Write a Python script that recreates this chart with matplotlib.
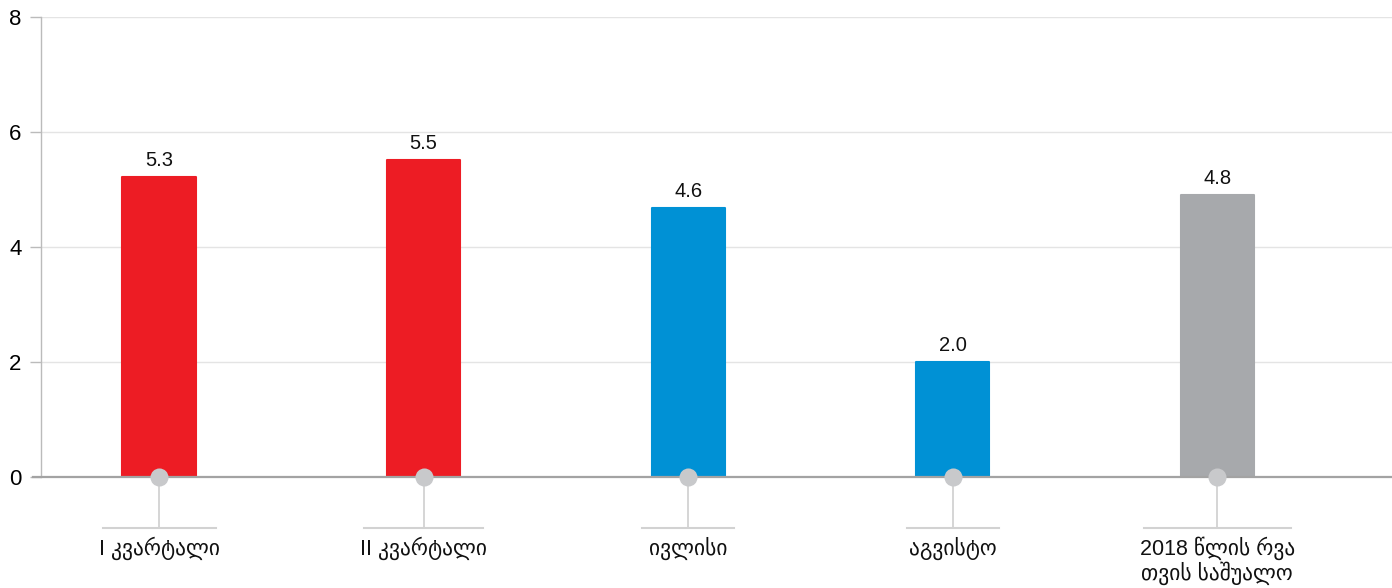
import matplotlib.pyplot as plt

categories = ["I კვარტალი", "II კვარტალი", "ივლისი", "აგვისტო",
              "2018 წლის რვა\nთვის საშუალო"]
values = [5.22, 5.51, 4.68, 2.0, 4.9]
value_labels = ["5.3", "5.5", "4.6", "2.0", "4.8"]
colors = ["#ED1C24", "#ED1C24", "#0091D5", "#0091D5", "#A7A9AC"]
yticks = [0, 2, 4, 6, 8]

FONT = ["Liberation Sans", "DejaVu Sans"]
plt.rcParams["font.family"] = FONT

fig = plt.figure(figsize=(13.92, 5.88), dpi=100)
ax = fig.add_axes([41 / 1392, 111 / 588, 1351 / 1392, 460 / 588])

x = list(range(len(categories)))
ax.bar(x, values, width=0.276, color=colors, edgecolor=colors, lw=1.5,
       joinstyle="round", zorder=2)

for xi, v, lab in zip(x, values, value_labels):
    ax.annotate(lab, (xi, v), xytext=(0, 5), textcoords="offset points",
                ha="center", va="bottom", fontsize=14.5, color="#111111")

ax.set_xlim(-0.446, 4.66)
ax.set_ylim(0, 8)
ax.set_yticks(yticks)
ax.set_yticklabels([str(t) for t in yticks], fontsize=16)
ax.set_xticks([])
ax.grid(axis="y", color="#e4e4e4", lw=1, zorder=0)
ax.tick_params(axis="y", length=8, width=1, color="#bbbbbb", pad=6)

for s in ["top", "right", "bottom"]:
    ax.spines[s].set_visible(False)
ax.spines["left"].set_color("#bbbbbb")
ax.spines["left"].set_linewidth(1)

# zero line
ax.axhline(0, xmin=-8 / 1351, xmax=1, color="#a3a3a3", lw=1.6, zorder=3,
           clip_on=False)

# category markers under the axis
y_bar = -51 / 57.5
fig.canvas.draw()
renderer = fig.canvas.get_renderer()
inv = ax.transData.inverted()
for xi, cat in zip(x, categories):
    ax.plot([xi, xi], [0, y_bar], color="#d2d2d2", lw=1.3, zorder=1,
            clip_on=False)
    ax.plot(xi, 0, "o", ms=13, color="#c8c9cb", mec="none", zorder=4,
            clip_on=False)
    t = ax.annotate(cat, (xi, y_bar), xytext=(0, -6), textcoords="offset points",
                    ha="center", va="top", fontsize=15.5, color="#111111",
                    linespacing=1.1, annotation_clip=False)
    bb = t.get_window_extent(renderer)
    half = max(bb.width / 2 - 4, 46)
    cx = ax.transData.transform((xi, 0))[0]
    x0 = inv.transform((cx - half, 0))[0]
    x1 = inv.transform((cx + half, 0))[0]
    ax.plot([x0, x1], [y_bar, y_bar], color="#d2d2d2", lw=1.5, zorder=1,
            clip_on=False)

fig.savefig("out.png", dpi=100)
